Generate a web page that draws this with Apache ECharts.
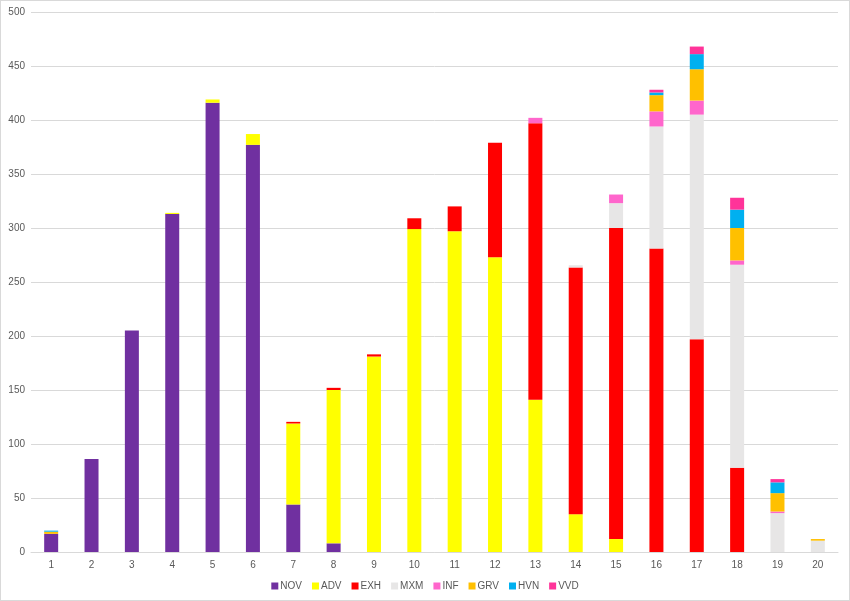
<!DOCTYPE html>
<html>
<head>
<meta charset="utf-8">
<script src="https://cdn.jsdelivr.net/npm/echarts@6/dist/echarts.min.js"></script>
<style>
  html, body { margin: 0; padding: 0; background: #fff; }
  #chart { width: 848px; height: 599px; border: 1px solid #d9d9d9; }
</style>
</head>
<body>
<div id="chart"></div>
<script>
const categories = ['1','2','3','4','5','6','7','8','9','10','11','12','13','14','15','16','17','18','19','20'];

const nov = [16.8, 86, 205, 313, 416, 377, 44, 8, 0, 0, 0, 0, 0, 0, 0, 0, 0, 0, 0, 0];
const adv = [0, 0, 0, 1, 3, 10, 75, 142, 181, 299, 297, 273, 141, 35, 12, 0, 0, 0, 0, 0];
const exh = [0, 0, 0, 0, 0, 0, 1.5, 2, 2, 10, 23, 106, 256, 228.5, 288, 281, 197, 78, 0, 0];
const mxm = [0, 0, 0, 0, 0, 0, 0, 0, 0, 0, 0, 0, 0, 2, 23, 113, 208, 188, 36, 10.5];
const inf = [0, 0, 0, 0, 0, 0, 0, 0, 0, 0, 0, 0, 5, 0, 8, 14, 13, 4, 1.5, 0];
const grv = [2, 0, 0, 0, 0, 0, 0, 0, 0, 0, 0, 0, 0, 0, 0, 15, 29, 30, 17, 1.5];
const hvn = [1, 0, 0, 0, 0, 0, 0, 0, 0, 0, 0, 0, 0, 0, 0, 2.5, 14, 17, 10, 0];
const vvd = [0, 0, 0, 0, 0, 0, 0, 0, 0, 0, 0, 0, 0, 0, 0, 2.5, 7, 11, 3, 0];

const seriesNames = ['NOV', 'ADV', 'EXH', 'MXM', 'INF', 'GRV', 'HVN', 'VVD'];
const seriesData = [nov, adv, exh, mxm, inf, grv, hvn, vvd];
const colors = ['#7030A0', '#FFFF00', '#FF0000', '#E7E6E6', '#FF66CC', '#FFC000', '#00B0F0', '#FF3399'];

const chart = echarts.init(document.getElementById('chart'));

const option = {
  animation: false,
  color: colors,
  textStyle: { fontFamily: 'Liberation Sans, Arial, sans-serif' },
  legend: {
    data: seriesNames,
    bottom: 4,
    left: 'center',
    itemWidth: 7,
    itemHeight: 7,
    itemGap: 10,
    icon: 'rect',
    textStyle: { color: '#595959', fontSize: 10, padding: [0, 0, 0, -3] }
  },
  grid: {
    left: 30,
    right: 11,
    top: 11,
    bottom: 48,
    containLabel: false
  },
  xAxis: {
    type: 'category',
    data: categories,
    axisLine: { show: true, lineStyle: { color: '#d9d9d9' } },
    axisTick: { show: false },
    axisLabel: { color: '#595959', fontSize: 10, margin: 8 }
  },
  yAxis: {
    type: 'value',
    min: 0,
    max: 500,
    interval: 50,
    axisLine: { show: false },
    axisTick: { show: false },
    axisLabel: { color: '#595959', fontSize: 10, margin: 6 },
    splitLine: { lineStyle: { color: '#d9d9d9' } }
  },
  series: seriesNames.map((name, i) => ({
    name: name,
    type: 'bar',
    stack: 'total',
    barWidth: 14,
    data: seriesData[i],
    itemStyle: { color: colors[i] }
  }))
};

chart.setOption(option);
</script>
</body>
</html>
